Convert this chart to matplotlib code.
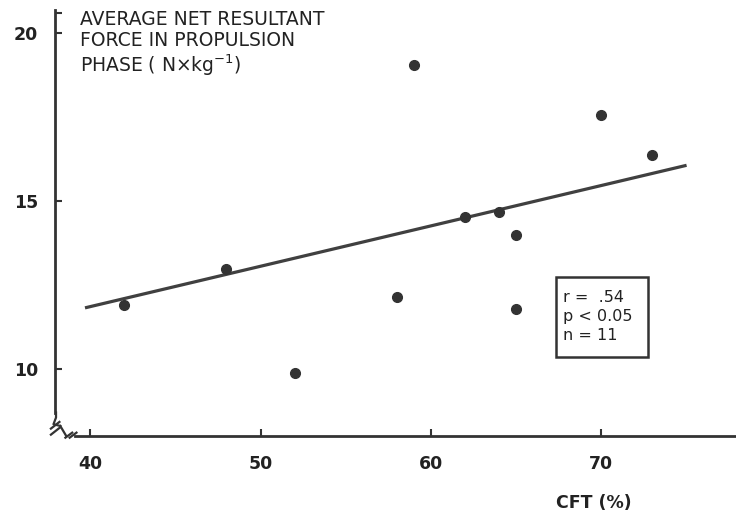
import numpy as np
import matplotlib
matplotlib.use("Agg")
import matplotlib.pyplot as plt
from matplotlib.patches import Rectangle

# ----------------------------------------------------------------------------------------------------------------------
# data
# ----------------------------------------------------------------------------------------------------------------------

cft = [42, 48, 52, 58, 59, 62, 64, 65, 65, 70, 73]
force = [11.9, 12.98, 9.87, 12.13, 19.05, 14.53, 14.67, 14.0, 11.78, 17.56, 16.37]

fit_x = [39.7, 75.0]
fit_y = [11.82, 16.07]

x_ticks = [40, 50, 60, 70]
y_ticks = [10, 15, 20]

stats_text = "r =  .54\np < 0.05\nn = 11"

ink = "#333333"

# ----------------------------------------------------------------------------------------------------------------------
# figure
# ----------------------------------------------------------------------------------------------------------------------

fig = plt.figure(figsize=(7.36, 5.16), dpi=100)
ax = fig.add_axes([55 / 736, 80 / 516, 1 - 55 / 736, 426 / 516])

ax.plot(fit_x, fit_y, color="#404040", linewidth=2.3, solid_capstyle="butt", zorder=2)
ax.plot(cft, force, "o", color=ink, markersize=7, zorder=3)

ax.set_xlim(37.94, 77.9)
ax.set_ylim(8.0, 20.7)

for side in ["top", "right"]:
    ax.spines[side].set_visible(False)
ax.spines["left"].set_linewidth(2)
ax.spines["bottom"].set_linewidth(2)
ax.spines["left"].set_color(ink)
ax.spines["bottom"].set_color(ink)
ax.spines["left"].set_bounds(8.7, 20.7)
ax.spines["bottom"].set_bounds(39.1, 77.9)

ax.set_xticks(x_ticks)
ax.set_yticks(y_ticks)
ax.set_yticks([20.62], minor=True)
ax.tick_params(axis="both", direction="in", length=5, width=1.5, color=ink,
               labelsize=12.5, labelcolor="#222222")
ax.tick_params(axis="x", pad=14)
ax.tick_params(axis="y", pad=12)
ax.tick_params(axis="y", which="minor", direction="in", length=5, width=1.5, color=ink)
for lab in ax.get_xticklabels() + ax.get_yticklabels():
    lab.set_fontweight("bold")

# axis break marks in the corner
brk = dict(color=ink, linewidth=1.6, transform=ax.transData, clip_on=False)
ax.plot([38.0, 38.0, 37.85, 38.25], [8.7, 8.55, 8.35, 8.3], **brk)
ax.plot([37.7, 38.2], [8.22, 8.42], **brk)
ax.plot([37.7, 38.2], [8.04, 8.24], **brk)
ax.plot([38.25, 38.6], [8.3, 8.0], **brk)
ax.plot([38.55, 38.95], [7.95, 8.1], **brk)
ax.plot([38.8, 39.2], [7.95, 8.1], **brk)

# y axis title written inside the plot
ax.text(0.036, 1.0,
        "AVERAGE NET RESULTANT\nFORCE IN PROPULSION\nPHASE ( N\u00d7kg$^{-1}$)",
        transform=ax.transAxes, ha="left", va="top", fontsize=13.5,
        color="#222222", linespacing=1.12)

ax.text(594 / 736, 13 / 516, "CFT (%)", transform=fig.transFigure,
        ha="center", va="center", fontsize=12.5, fontweight="bold", color="#222222")

# stats box
ax.add_patch(Rectangle((67.36, 10.37), 5.35, 2.38, fill=False, edgecolor=ink, linewidth=1.8))
ax.text(67.75, 11.56, stats_text, ha="left", va="center", fontsize=11.5,
        color="#222222", linespacing=1.3)

fig.savefig("out.png", dpi=100)
